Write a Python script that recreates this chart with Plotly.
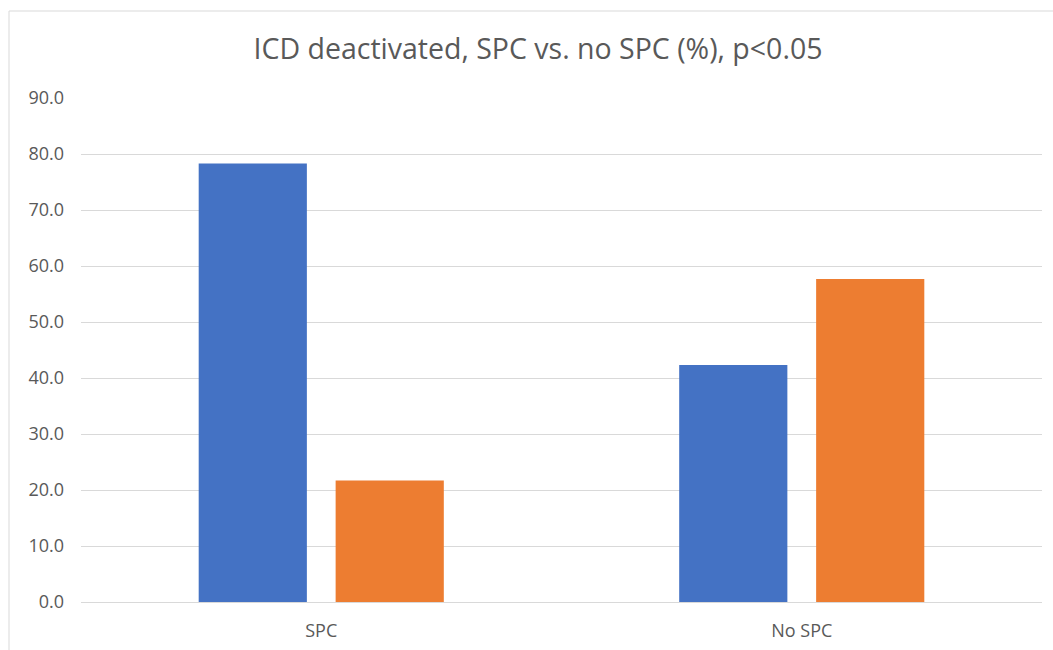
import plotly.graph_objects as go

categories = ["SPC", "No SPC"]
series_a = [78.3, 42.3]
series_b = [21.7, 57.7]
y_ticks = [0, 10, 20, 30, 40, 50, 60, 70, 80, 90]

W, H = 1053, 650
L, R, T, B = 81, 11, 98, 48
pw, ph = W - L - R, H - T - B

fig = go.Figure()
fig.add_bar(x=categories, y=series_a, name="ICD deactivated", marker_color="#4472C4", marker_line_width=0)
fig.add_bar(x=categories, y=series_b, name="ICD not deactivated", marker_color="#ED7D31", marker_line_width=0)

font = "Open Sans, Liberation Sans, sans-serif"
fig.update_layout(
    width=W, height=H,
    margin=dict(l=L, r=R, t=T, b=B, autoexpand=False),
    paper_bgcolor="white", plot_bgcolor="white",
    barmode="group", bargap=0.43, bargroupgap=0.21,
    showlegend=False,
    title=dict(text="ICD deactivated, SPC vs. no SPC (%), p<0.05",
               x=538 / W, xanchor="center", y=1 - 49 / H, yanchor="middle",
               font=dict(family=font, size=28.5, color="#595959")),
    font=dict(family=font, color="#595959"),
)
fig.update_yaxes(range=[0, 90], tickvals=y_ticks, tickformat=".1f",
                 showgrid=True, gridcolor="#D9D9D9", gridwidth=1,
                 zeroline=False, showline=False, ticks="", automargin=False,
                 ticklabelstandoff=16,
                 tickfont=dict(family=font, size=18, color="#595959"))
fig.update_xaxes(showline=True, linecolor="#D9D9D9", linewidth=1, ticks="", automargin=False,
                 ticklabelstandoff=12,
                 tickfont=dict(family=font, size=18, color="#595959"))

# chart area border (cropped at right and bottom)
fig.add_shape(type="rect", xref="paper", yref="paper",
              x0=(9 - L) / pw, x1=(W + 20 - L) / pw,
              y0=-(B + 20) / ph, y1=(H - B - 11) / ph,
              line=dict(color="#D9D9D9", width=1), fillcolor="rgba(0,0,0,0)", layer="below")

fig.write_html("out.html", config={"displayModeBar": False},
               post_script="document.body.style.margin='0px';")
